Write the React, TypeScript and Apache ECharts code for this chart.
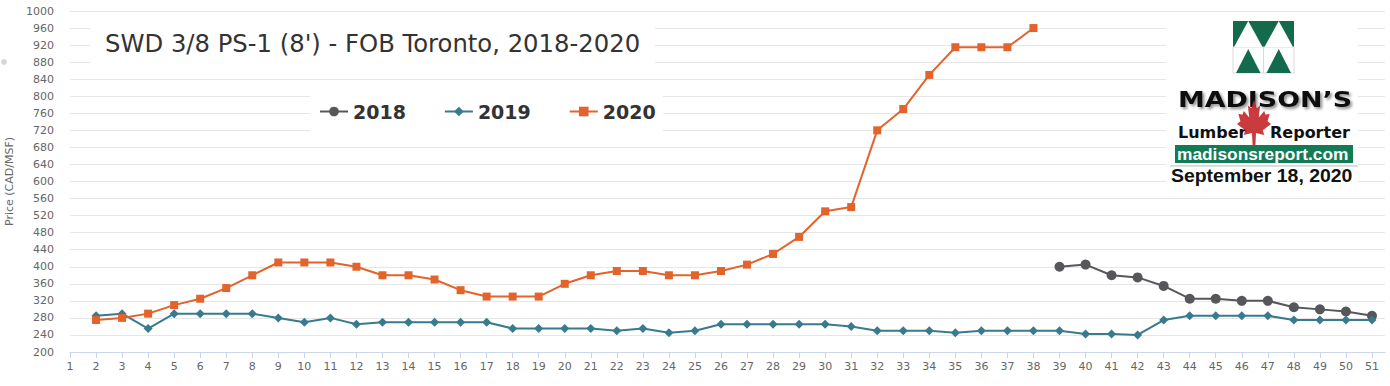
import React, { useEffect, useRef } from "react";
import * as echarts from "echarts";

const weeks = [1, 2, 3, 4, 5, 6, 7, 8, 9, 10, 11, 12, 13, 14, 15, 16, 17, 18, 19, 20, 21, 22, 23, 24, 25, 26, 27, 28, 29, 30, 31, 32, 33, 34, 35, 36, 37, 38, 39, 40, 41, 42, 43, 44, 45, 46, 47, 48, 49, 50, 51];

const y2018: (number | null)[] = [
  null, null, null, null, null, null, null, null, null, null,
  null, null, null, null, null, null, null, null, null, null,
  null, null, null, null, null, null, null, null, null, null,
  null, null, null, null, null, null, null, null,
  400, 405, 380, 375, 355, 325, 325, 320, 320, 305, 300, 295, 285,
];

const y2019: (number | null)[] = [
  null, 285, 290, 255, 290, 290, 290, 290, 280, 270,
  280, 265, 270, 270, 270, 270, 270, 255, 255, 255,
  255, 250, 255, 245, 250, 265, 265, 265, 265, 265,
  260, 250, 250, 250, 245, 250, 250, 250, 250, 242,
  242, 240, 275, 285, 285, 285, 285, 275, 275, 275, 275,
];

const y2020: (number | null)[] = [
  null, 275, 280, 290, 310, 325, 350, 380, 410, 410,
  410, 400, 380, 380, 370, 345, 330, 330, 330, 360,
  380, 390, 390, 380, 380, 390, 405, 430, 470, 530,
  540, 720, 770, 850, 915, 915, 915, 960,
  null, null, null, null, null, null, null, null, null, null, null, null, null,
];

const seriesNames = ["2018", "2019", "2020"];
const seriesColors = ["#55575b", "#387b8e", "#e2632b"];

const titleText = "SWD 3/8 PS-1 (8') - FOB Toronto, 2018-2020";
const yAxisName = "Price (CAD/MSF)";

const MAPLE =
  "M50,0 L58,18 L68,12 L64,38 L80,24 L84,32 L96,30 L90,46 L100,52 L76,66 L80,76 L56,72 L54,100 L46,100 L44,72 L20,76 L24,66 L0,52 L10,46 L4,30 L16,32 L20,24 L36,38 L32,12 L42,18 Z";
echarts.graphic.registerShape("maple", echarts.graphic.extendPath(MAPLE, {}) as any);

const FONT = "DejaVu Sans";
const GREEN = "#136b4b";

function txt(text: string, x: number, y: number, size: number, weight: string, color: string, family: string, extra: any = {}) {
  return {
    type: "text",
    x,
    y,
    z: 6,
    ...extra,
    style: {
      text,
      x: 0,
      y: 0,
      fontSize: size,
      fontWeight: weight,
      fontFamily: family,
      fill: color,
      textAlign: "left",
      align: "left",
      textVerticalAlign: "middle",
      verticalAlign: "middle",
      ...(extra.style || {}),
    },
  };
}

export default function App() {
  const ref = useRef<HTMLDivElement>(null);
  useEffect(() => {
    document.body.style.margin = "0";
    const chart = echarts.init(ref.current!, null, { renderer: "svg" });
    const symbols = ["circle", "diamond", "rect"];
    const sizes = [10, 9, 8];
    const all = [y2018, y2019, y2020];
    const lx = 1233, ly = 21, lw = 61, lh = 52;
    const mx = lx + lw / 2, my = ly + lh / 2;
    chart.setOption({
      animation: false,
      grid: { left: 70, right: 5, top: 11, bottom: 34, containLabel: false, outerBoundsMode: "none" },
      legend: {
        data: seriesNames,
        left: 314,
        top: 97,
        itemWidth: 28,
        itemHeight: 12,
        itemGap: 38,
        textStyle: { fontFamily: FONT, fontSize: 19, fontWeight: "bold", color: "#333" },
        z: 8,
      },
      xAxis: {
        type: "value",
        min: 1,
        max: 51.5,
        interval: 1,
        axisLine: { show: true, lineStyle: { color: "#ccd6eb" } },
        axisTick: { show: true, length: 6, lineStyle: { color: "#ccd6eb" }, customValues: weeks },
        axisLabel: { customValues: weeks, color: "#666", fontSize: 11, fontFamily: FONT, margin: 9 },
        splitLine: { show: false },
      },
      yAxis: {
        type: "value",
        min: 200,
        max: 1000,
        interval: 40,
        name: yAxisName,
        nameLocation: "middle",
        nameGap: 51,
        nameTextStyle: { color: "#666", fontSize: 11, fontFamily: FONT },
        axisLine: { show: false },
        axisTick: { show: false },
        axisLabel: { color: "#666", fontSize: 11, fontFamily: FONT, margin: 16, formatter: (v: number) => String(v) },
        splitLine: { lineStyle: { color: "#e6e6e6" } },
      },
      series: seriesNames.map((n, i) => ({
        name: n,
        type: "line",
        data: weeks.map((w, k) => [w, all[i][k]]),
        symbol: symbols[i],
        symbolSize: sizes[i],
        showSymbol: true,
        connectNulls: false,
        lineStyle: { width: 2, color: seriesColors[i] },
        itemStyle: { color: seriesColors[i] },
        z: 2 + i,
      })),
      graphic: {
        elements: [
          { type: "circle", shape: { cx: 4, cy: 62, r: 3 }, style: { fill: "#d6d6d6" }, z: 5 },
          { type: "rect", shape: { x: 90, y: 20, width: 565, height: 49 }, style: { fill: "#fff" }, z: 5 },
          { type: "rect", shape: { x: 310, y: 90, width: 353, height: 43 }, style: { fill: "#fff" }, z: 5 },
          { type: "rect", shape: { x: 1166, y: 15, width: 192, height: 177 }, style: { fill: "#fff" }, z: 5 },
          txt(titleText, 105, 43, 24.3, "normal", "#333", FONT),
          // logo squares
          { type: "rect", shape: { x: lx, y: ly, width: lw, height: lh / 2 }, style: { fill: GREEN }, z: 6 },
          { type: "polygon", shape: { points: [[lx + 1, my], [lx + lw / 4, ly], [mx - 1, my]] }, style: { fill: "#fff" }, z: 7 },
          { type: "polygon", shape: { points: [[mx + 1, my], [mx + lw / 4, ly], [lx + lw - 1, my]] }, style: { fill: "#fff" }, z: 7 },
          { type: "rect", shape: { x: lx, y: my, width: lw, height: lh / 2 }, style: { fill: "#fff", stroke: "#d0d0d0", lineWidth: 0.8 }, z: 6 },
          { type: "line", shape: { x1: mx, y1: my, x2: mx, y2: ly + lh }, style: { stroke: "#d0d0d0", lineWidth: 0.8 }, z: 7 },
          { type: "polygon", shape: { points: [[lx + 3, ly + lh], [lx + lw / 4, my + 2], [mx - 3, ly + lh]] }, style: { fill: GREEN }, z: 7 },
          { type: "polygon", shape: { points: [[mx + 3, ly + lh], [mx + lw / 4, my + 2], [lx + lw - 3, ly + lh]] }, style: { fill: GREEN }, z: 7 },
          txt("MADISON\u2019S", 1178, 100, 21, "bold", "#111", FONT, {
            scaleX: 1.28,
            style: { textShadowColor: "rgba(0,0,0,0.45)", textShadowBlur: 3, textShadowOffsetX: 2, textShadowOffsetY: 2 },
          }),
          txt("Lumber", 1178, 132, 16, "bold", "#111", FONT),
          txt("Reporter", 1270, 132, 16, "bold", "#111", FONT),
          { type: "maple", x: 1237, y: 100, scaleX: 0.34, scaleY: 0.46, style: { fill: "#c42a2d", opacity: 0.92 }, z: 8 },
          { type: "rect", shape: { x: 1175, y: 145, width: 178, height: 18 }, style: { fill: "#127a55" }, z: 6 },
          txt("madisonsreport.com", 1177, 154.5, 17, "bold", "#fff", "Liberation Sans", { scaleX: 1.02 }),
          { type: "line", shape: { x1: 1170, y1: 166, x2: 1358, y2: 166 }, style: { stroke: "#bbb", lineWidth: 1 }, z: 6 },
          txt("September 18, 2020", 1171, 176, 18, "bold", "#111", "Liberation Sans", { scaleX: 1.08 }),
        ],
      },
    });
    return () => chart.dispose();
  }, []);
  return <div ref={ref} style={{ width: 1390, height: 386 }} />;
}
